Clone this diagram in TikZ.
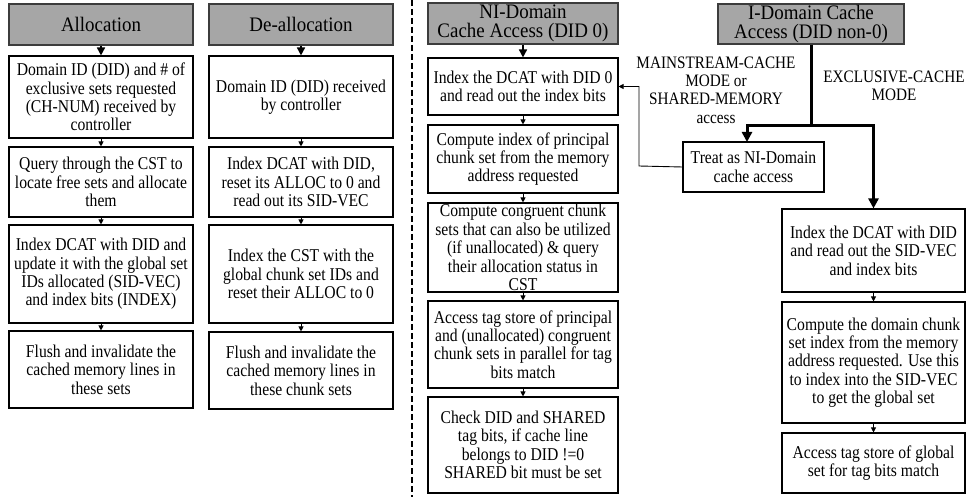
\documentclass[tikz,border=0pt]{standalone}
\usepackage{fontspec}
\setmainfont{Liberation Serif}
\newfontfamily\bodyfam[FakeStretch=0.87]{Liberation Serif}
\newfontfamily\headfam[FakeStretch=0.92]{Liberation Serif}
\usetikzlibrary{arrows.meta}
\newcommand\bodyfs{\bodyfam\fontsize{18}{18.4}\selectfont}
\newcommand\lblfs{\bodyfam\fontsize{17.5}{18.4}\selectfont}
\newcommand\headfs{\headfam\fontsize{20.6}{19.2}\selectfont}
\definecolor{hdrfill}{RGB}{166,166,166}
\definecolor{hdrline}{RGB}{60,60,60}
\newcommand\mkbox[7][box]{%
  \node[#1, minimum width={#5-#3}, minimum height={#6-#4}] (#2) at ({(#3+#5)/2},{(#4+#6)/2}) {#7};}
\begin{document}
\begin{tikzpicture}[x=1pt,y=-1pt,
  box/.style={draw=black, line width=1.1pt, fill=white, align=center, inner sep=0pt, font=\bodyfs},
  hdr/.style={draw=hdrline, line width=1.4pt, fill=hdrfill, align=center, inner sep=0pt, font=\headfs},
  arr/.style={line width=0.9pt, -{Triangle[length=5pt,width=5pt]}},
  harr/.style={line width=1.6pt, -{Triangle[length=8pt,width=8pt]}},
  tarr/.style={line width=3pt, -{Triangle[length=10pt,width=10pt]}},
  lbl/.style={align=center, inner sep=0pt, font=\lblfs}]
\useasboundingbox (0,0) rectangle (967,497);
% Allocation
\mkbox[hdr]{ah}{9}{4}{193}{45}{Allocation}
\mkbox{a1}{9}{56}{193}{138}{Domain ID (DID) and \# of\\exclusive sets requested\\(CH-NUM) received by\\controller}
\mkbox{a2}{9}{147}{193}{217}{Query through the CST to\\locate free sets and allocate\\them}
\mkbox{a3}{9}{225}{193}{323}{Index DCAT with DID and\\update it with the global set\\IDs allocated (SID-VEC)\\and index bits (INDEX)}
\mkbox{a4}{9}{331}{193}{408}{Flush and invalidate the\\cached memory lines in\\these sets}
\draw[harr] (ah.south) -- (a1.north);
\draw[arr] (a1.south) -- (a2.north);
\draw[arr] (a2.south) -- (a3.north);
\draw[arr] (a3.south) -- (a4.north);
% De-allocation
\mkbox[hdr]{dh}{209}{4}{393}{45}{De-allocation}
\mkbox{d1}{209}{56}{393}{138}{Domain ID (DID) received\\by controller}
\mkbox{d2}{209}{147}{393}{217}{Index DCAT with DID,\\reset its ALLOC to 0 and\\read out its SID-VEC}
\mkbox{d3}{209}{225}{393}{323}{Index the CST with the\\global chunk set IDs and\\reset their ALLOC to 0}
\mkbox{d4}{209}{332}{393}{409}{Flush and invalidate the\\cached memory lines in\\these chunk sets}
\draw[harr] (dh.south) -- (d1.north);
\draw[arr] (d1.south) -- (d2.north);
\draw[arr] (d2.south) -- (d3.north);
\draw[arr] (d3.south) -- (d4.north);
% divider
\coordinate (divt) at (412,0);
\coordinate (divb) at (412,497);
\draw[line width=2.5pt, dash pattern=on 6pt off 3pt] (divt) -- (divb);
% NI-Domain
\mkbox[hdr]{nh}{428}{3}{618}{44}{NI-Domain\\Cache Access (DID 0)}
\mkbox{n1}{428}{58}{618}{115}{Index the DCAT with DID 0\\and read out the index bits}
\mkbox{n2}{428}{125}{618}{193}{Compute index of principal\\chunk set from the memory\\address requested}
\mkbox{n3}{428}{203}{618}{292}{Compute congruent chunk\\sets that can also be utilized\\(if unallocated) \& query\\their allocation status in\\CST}
\mkbox{n4}{428}{301}{618}{388}{Access tag store of principal\\and (unallocated) congruent\\chunk sets in parallel for tag\\bits match}
\mkbox{n5}{428}{397}{618}{493}{Check DID and SHARED\\tag bits, if cache line\\belongs to DID !=0\\SHARED bit must be set}
\draw[harr] (nh.south) -- (n1.north);
\draw[arr] (n1.south) -- (n2.north);
\draw[arr] (n2.south) -- (n3.north);
\draw[arr] (n3.south) -- (n4.north);
\draw[arr] (n4.south) -- (n5.north);
% I-Domain
\mkbox[hdr]{ih}{718}{4}{904}{44}{I-Domain Cache\\Access (DID non-0)}
\mkbox{tr}{683}{142}{824}{192}{Treat as NI-Domain\\cache access}
\mkbox{i1}{782}{209}{965}{292}{Index the DCAT with DID\\and read out the SID-VEC\\and index bits}
\mkbox{i2}{782}{302}{965}{423}{Compute the domain chunk\\set index from the memory\\address requested. Use this\\to index into the SID-VEC\\to get the global set}
\mkbox{i3}{782}{433}{965}{493}{Access tag store of global\\set for tag bits match}
\draw[arr] (i1.south) -- (i2.north);
\draw[arr] (i2.south) -- (i3.north);
\coordinate (split) at (811,126);
\draw[line width=3pt] (ih.south -| split) -- (split);
\draw[tarr] (split) -| (747,142);
\draw[tarr] (split) -| (i1.north);
\draw[arr] (tr.west) -- (639,166) |- (n1.east);
\node[lbl] (lm) at (716,90) {MAINSTREAM-CACHE\\MODE or\\SHARED-MEMORY\\access};
\node[lbl] (le) at (894,86) {EXCLUSIVE-CACHE\\MODE};
\end{tikzpicture}
\end{document}
